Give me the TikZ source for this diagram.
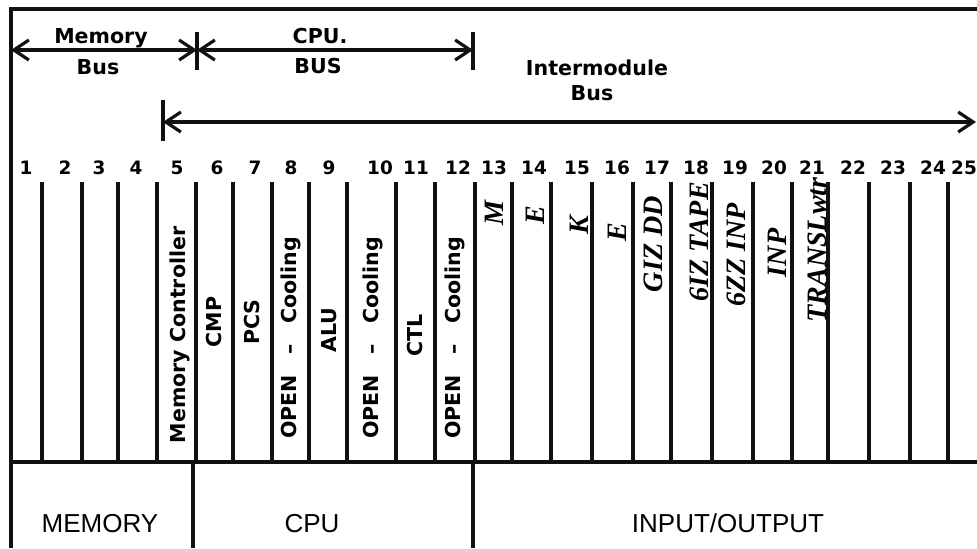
\documentclass[tikz,border=0pt]{standalone}
\usepackage{fontspec}
\setmainfont{DejaVu Sans}
\newfontfamily\narrowfont{Liberation Sans}
\newfontfamily\handfont{Liberation Serif}
\usepackage{tikz}
\usetikzlibrary{
  arrows.meta,
  positioning
}
\definecolor{bpInk}{HTML}{111111}
\tikzset{
  frameline/.style={line width=1.9pt, bpInk},
  slotline/.style={line width=2.3pt, bpInk},
  busline/.style={line width=1.8pt, bpInk},
  busarrow/.style={busline,
    {Straight Barb[length=3mm, width=4mm]}-{Straight Barb[length=3mm, width=4mm]}},
  buslabel/.style={font=\fontsize{11.7}{13}\selectfont\bfseries, inner sep=0pt, anchor=base},
  slotnum/.style={font=\fontsize{10.5}{12}\selectfont\bfseries, inner sep=0pt, anchor=base},
  slotlabel/.style={font=\fontsize{11.7}{13}\selectfont\bfseries, rotate=90, inner sep=0pt},
  handlabel/.style={font=\fontsize{16}{18}\selectfont\handfont\bfseries\itshape, rotate=90, inner sep=0pt},
  grouplabel/.style={font=\fontsize{14.8}{17}\selectfont\narrowfont, inner sep=0pt, anchor=base}
}

\begin{document}
\begin{tikzpicture}[x=0.02cm, y=-0.02cm]
  \useasboundingbox (0,0) rectangle (977,548);

  % frame and separators
  \draw[frameline] (977,9) -- (11,9) -- (11,548);
  \draw[frameline] (11,462) -- (977,462);
  \draw[frameline] (193,462) -- (193,548);
  \draw[frameline] (473,462) -- (473,548);

  % buses
  \coordinate (mbL) at (11,50);
  \coordinate (mbR) at (197,50);
  \coordinate (cbR) at (473,50);
  \coordinate (ibL) at (163,122);
  \coordinate (ibR) at (976,122);
  \draw[busline] (197,32) -- (197,70);
  \draw[busline] (473,32) -- (473,70);
  \draw[busline] (163,100) -- (163,141);
  \draw[busarrow] (mbL) -- (mbR);
  \draw[busarrow] (mbR) -- (cbR);
  \draw[busarrow] (ibL) -- (ibR);
  \node[buslabel] (memBus1) at (101,43) {Memory};
  \node[buslabel] (memBus2) at (98,74) {Bus};
  \node[buslabel] (cpuBus1) at (320,43) {CPU.};
  \node[buslabel] (cpuBus2) at (318,73) {BUS};
  \node[buslabel] (imBus1) at (597,75) {Intermodule};
  \node[buslabel] (imBus2) at (592,100) {Bus};

  % slots
  \foreach \x in {42,82,118,157,196,233,272,309,347,396,435,475,512,551,592,633,671,712,753,792,828,869,910,948}
    \draw[slotline] (\x,182) -- (\x,462);
  \foreach \n/\x in {1/26,2/65,3/99,4/136,5/177,6/217,7/255,8/291,9/329,10/380,11/416,12/458,
                     13/494,14/534,15/577,16/617,17/657,18/696,19/735,20/774,21/812,22/853,23/893,24/933,25/964}
    \node[slotnum] (num\n) at (\x,174) {\n};

  % printed slot names
  \node[slotlabel] (memCtl) at (180,335) {Memory Controller};
  \node[slotlabel] (cmp) at (214,322) {CMP};
  \node[slotlabel] (pcs) at (252,322) {PCS};
  \node[slotlabel] (open8) at (291,338) {OPEN\quad--\quad Cooling};
  \node[slotlabel] (alu) at (329,330) {ALU};
  \node[slotlabel] (open10) at (373,338) {OPEN\quad--\quad Cooling};
  \node[slotlabel] (ctl) at (415,335) {CTL};
  \node[slotlabel] (open12) at (455,338) {OPEN\quad--\quad Cooling};

  % handwritten slot names
  \node[handlabel] (hw13) at (494,213) {M};
  \node[handlabel] (hw14) at (535,215) {E};
  \node[handlabel] (hw15) at (579,225) {K};
  \node[handlabel] (hw16) at (617,232) {E};
  \node[handlabel] (hw17) at (653,244) {GIZ DD};
  \node[handlabel] (hw18) at (699,242) {6IZ TAPE};
  \node[handlabel] (hw19) at (736,255) {6ZZ INP};
  \node[handlabel] (hw20) at (777,253) {INP};
  \node[handlabel] (hw21) at (817,250) {TRANSLwtr};

  % groups
  \node[grouplabel] (grpMem) at (100,532) {MEMORY};
  \node[grouplabel] (grpCpu) at (312,532) {CPU};
  \node[grouplabel] (grpIo) at (728,532) {INPUT/OUTPUT};
\end{tikzpicture}
\end{document}
